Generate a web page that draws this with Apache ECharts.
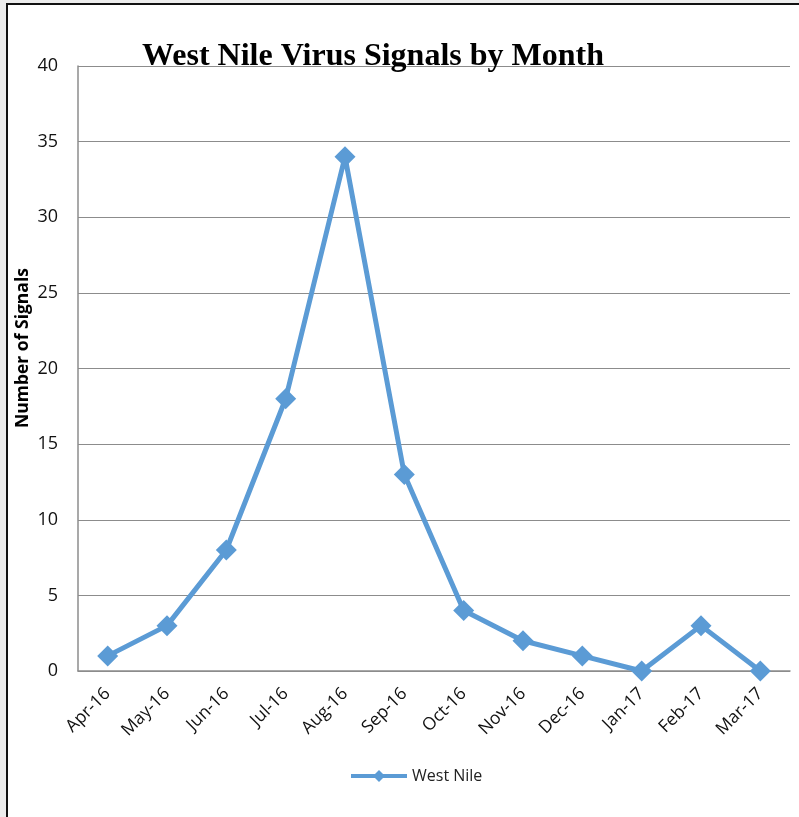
<!DOCTYPE html>
<html><head><meta charset="utf-8">
<script src="https://cdn.jsdelivr.net/npm/echarts@6/dist/echarts.min.js"></script>
<style>
html,body{margin:0;padding:0;background:#ececec;overflow:hidden;}
#frame{position:absolute;left:6px;top:3px;width:900px;height:900px;border:2px solid #111;background:#fff;}
#chart{position:absolute;left:0;top:0;width:799px;height:817px;}
</style></head>
<body>
<div id="frame"></div>
<div id="chart"></div>
<script>
const months = ['Apr-16','May-16','Jun-16','Jul-16','Aug-16','Sep-16','Oct-16','Nov-16','Dec-16','Jan-17','Feb-17','Mar-17'];
const westNile = [1,3,8,18,34,13,4,2,1,0,3,0];
const seriesName = 'West Nile';
const chartTitle = 'West Nile Virus Signals by Month';
const yName = 'Number of Signals';

const chart = echarts.init(document.getElementById('chart'), null, {renderer:'canvas'});
chart.setOption({
  backgroundColor: 'transparent',
  animation: false,
  title: {
    text: chartTitle,
    left: 137, top: 36,
    textStyle: {fontFamily: 'Liberation Serif', fontWeight: 'bold', fontSize: 32, color: '#000'}
  },
  legend: {
    data: [{name: seriesName, icon: 'path://M0,4 L24,4 L28,0 L32,4 L56,4 L56,8 L32,8 L28,12 L24,8 L0,8 Z'}],
    bottom: 28, left: 346,
    itemWidth: 56, itemHeight: 12, itemGap: 4,
    textStyle: {fontFamily: 'Open Sans', fontSize: 16, color: '#222'}
  },
  grid: {left: 78, right: 9, top: 66, bottom: 146, containLabel: false},
  graphic: [{
    type: 'text', x: 23, y: 348, rotation: Math.PI / 2,
    style: {text: yName, fontFamily: 'Open Sans', fontWeight: 'bold', fontSize: 17.5, fill: '#000', align: 'center', verticalAlign: 'middle'}
  }],
  xAxis: {
    type: 'category', data: months, boundaryGap: true,
    axisLine: {lineStyle: {color: '#8c8c8c', width: 1.5}},
    axisTick: {show: false},
    axisLabel: {rotate: 45, fontFamily: 'Open Sans', fontSize: 17.5, color: '#111', margin: 20, interval: 0}
  },
  yAxis: {
    type: 'value', min: 0, max: 40, interval: 5,
    axisLine: {show: true, lineStyle: {color: '#8c8c8c', width: 1.5}},
    axisTick: {show: false},
    splitLine: {lineStyle: {color: '#8c8c8c', width: 1}},
    axisLabel: {fontFamily: 'Open Sans', fontSize: 18, color: '#111', margin: 20}
  },
  series: [{
    name: seriesName, type: 'line', data: westNile,
    symbol: 'diamond', symbolSize: 21,
    lineStyle: {color: '#5B9BD5', width: 5},
    itemStyle: {color: '#5B9BD5'},
    color: '#5B9BD5'
  }]
});
</script>
</body></html>
